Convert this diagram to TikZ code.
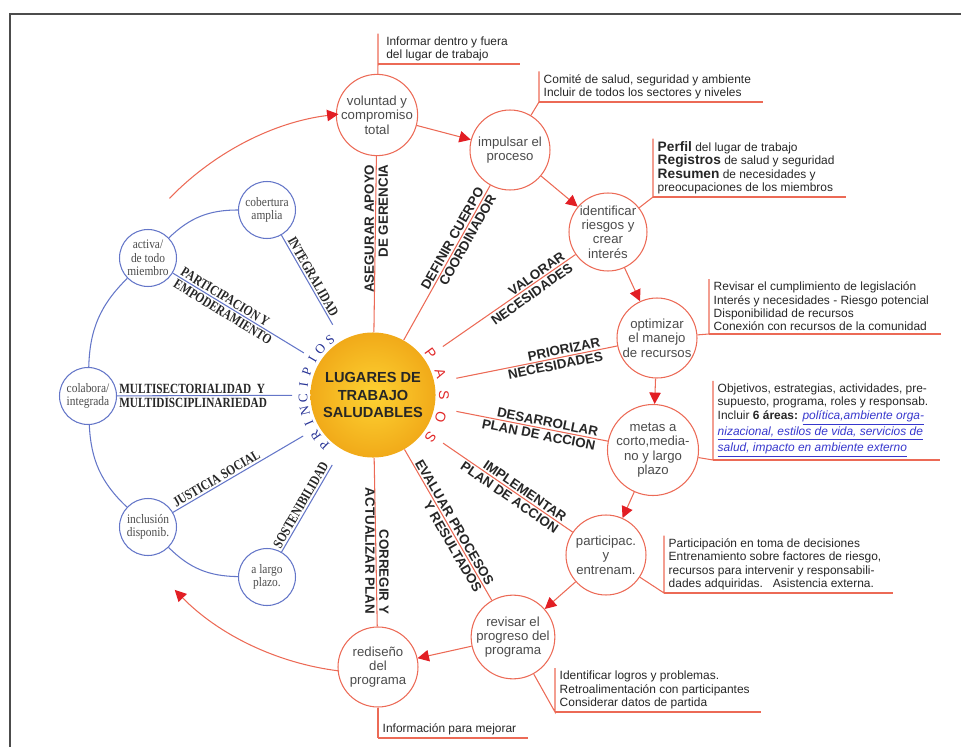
\documentclass[tikz,border=0pt]{standalone}
\usepackage{fontspec}
\setmainfont{Liberation Sans}
\newfontfamily\serifblue{Liberation Serif}
\newfontfamily\serifnarrow[FakeStretch=0.88]{Liberation Serif}
\newfontfamily\serifcond[FakeStretch=0.8]{Liberation Serif}
\usetikzlibrary{calc,arrows.meta}

\definecolor{salmon}{RGB}{236,106,86}
\definecolor{arrred}{RGB}{226,30,36}
\definecolor{pasred}{RGB}{225,40,40}
\definecolor{bluel}{RGB}{100,118,200}
\definecolor{princ}{RGB}{40,52,150}
\definecolor{linkblue}{RGB}{55,55,205}
\definecolor{gold1}{RGB}{253,210,50}
\definecolor{gold2}{RGB}{241,170,25}

\newcommand{\keyw}[1]{{\fontsize{7.8}{7.6}\selectfont\bfseries #1}}
\newcommand{\lk}[1]{\textcolor{linkblue}{\underline{\itshape #1}}}

\tikzset{
  stepnode/.style={circle, draw=salmon, line width=0.6pt, fill=white, minimum size=1.6cm, inner sep=0pt, align=center, font=\fontsize{7.5}{8.2}\selectfont, text=black!70},
  princnode/.style={circle, draw=bluel, line width=0.6pt, fill=white, minimum size=1.14cm, inner sep=0pt, align=center, font=\serifnarrow\fontsize{7.4}{7.6}\selectfont, text=black!70},
  rline/.style={draw=salmon, line width=0.6pt},
  bline/.style={draw=bluel, line width=0.6pt},
  flow/.style={rline, -{Triangle[length=6.5pt,width=6.5pt,color=arrred]}},
  redlab/.style={font=\bfseries\fontsize{7.6}{7.6}\selectfont, inner sep=1pt, text=black!85},
  bluelab/.style={font=\serifcond\bfseries\fontsize{8}{8}\selectfont, inner sep=1pt, text=black!85},
  notetext/.style={anchor=south west, align=left, inner xsep=2.5pt, inner ysep=1.5pt, font=\fontsize{6.8}{7.6}\selectfont, text=black!85},
}

\begin{document}
\begin{tikzpicture}[x=0.02cm, y=-0.02cm]
  \useasboundingbox (0,0) rectangle (961,747);
  % frame
  \draw[black!70, line width=0.8pt] (10,747) -- (10,14) -- (961,14);

  % centre
  \node[circle, minimum size=2.48cm, shading=radial, inner color=gold1, outer color=gold2, align=center, font=\bfseries\fontsize{8.3}{9.9}\selectfont, text=black!85] (ctr) at (373,395) {LUGARES DE\\TRABAJO\\SALUDABLES};

  % pasos
  \node[stepnode] (s1) at (377,115) {voluntad y\\compromiso\\total};
  \node[stepnode] (s2) at (510,150) {impulsar el\\proceso};
  \node[stepnode, minimum size=1.56cm] (s3) at (608,232) {identificar\\riesgos y\\crear\\interés};
  \node[stepnode] (s4) at (657,338) {optimizar\\el manejo\\de recursos};
  \node[stepnode, minimum size=1.64cm] (s5) at (653,450) {metas a\\corto,media-\\no y largo\\plazo};
  \node[stepnode] (s6) at (606,555) {participac.\\y\\entrenam.};
  \node[stepnode] (s7) at (513,637) {revisar el\\progreso del\\programa};
  \node[stepnode] (s8) at (378,667) {rediseño\\del\\programa};

  % principios
  \node[princnode] (cob) at (267,210) {cobertura\\amplia};
  \node[princnode] (act) at (148,258) {activa/\\de todo\\miembro};
  \node[princnode] (col) at (88,396) {colabora/\\integrada};
  \node[princnode] (inc) at (148,527) {inclusión\\disponib.};
  \node[princnode] (lar) at (267,577) {a largo\\plazo.};

  % ring of principles
  \draw[bline] (cob) to[bend right=22] (act);
  \draw[bline] (act) to[bend right=22] (col);
  \draw[bline] (col) to[bend right=22] (inc);
  \draw[bline] (inc) to[bend right=22] (lar);

  % sequence of steps
  \foreach \a/\b in {s1/s2, s2/s3, s3/s4, s4/s5, s5/s6, s6/s7, s7/s8}
    \draw[flow] (\a) -- (\b);

  % big return arcs
  \coordinate (arcA) at ($(ctr)+(-136:283)$);
  \draw[flow] (arcA) arc[start angle=-136, end angle=-97, radius=283];
  \coordinate (arcB) at ($(ctr)+(97:278)$);
  \draw[flow] (arcB) arc[start angle=97, end angle=135.5, radius=278];

  % red spokes
  \coordinate (v3) at ($(ctr)!1.7cm!(s3)$);
  \coordinate (v4) at ($(ctr)!1.7cm!(s4)$);
  \coordinate (v5) at ($(ctr)!1.7cm!(s5)$);
  \coordinate (v6) at ($(ctr)!1.7cm!(s6)$);
  \draw[rline] (ctr) -- (s1)
    node[redlab, pos=.965, rotate=90, anchor=south east] {ASEGURAR APOYO}
    node[redlab, pos=.965, rotate=90, anchor=north east] {DE GERENCIA};
  \draw[rline] (ctr) -- (s2)
    node[redlab, pos=.97, rotate=60.7, anchor=south east] {DEFINIR CUERPO}
    node[redlab, pos=.97, rotate=60.7, anchor=north east] {COORDINADOR};
  \draw[rline] (v3) -- (s3)
    node[redlab, pos=.95, rotate=35.5, anchor=south east] {VALORAR}
    node[redlab, pos=.95, rotate=35.5, anchor=north east] {NECESIDADES};
  \draw[rline] (v4) -- (s4)
    node[redlab, pos=.915, rotate=11.3, anchor=south east] {PRIORIZAR}
    node[redlab, pos=.915, rotate=11.3, anchor=north east] {NECESIDADES};
  \draw[rline] (v5) -- (s5)
    node[redlab, pos=.94, rotate=-11.1, anchor=south east] {DESARROLLAR}
    node[redlab, pos=.94, rotate=-11.1, anchor=north east] {PLAN DE ACCION};
  \draw[rline] (v6) -- (s6)
    node[redlab, pos=.925, rotate=-34.4, anchor=south east] {IMPLEMENTAR}
    node[redlab, pos=.925, rotate=-34.4, anchor=north east] {PLAN DE ACCION};
  \draw[rline] (ctr) -- (s7)
    node[redlab, pos=.93, rotate=-59.8, anchor=south east] {EVALUAR PROCESOS}
    node[redlab, pos=.93, rotate=-59.8, anchor=north east] {Y RESULTADOS};
  \draw[rline] (ctr) -- (s8)
    node[redlab, pos=.94, rotate=-90, anchor=south east] {CORREGIR Y}
    node[redlab, pos=.94, rotate=-90, anchor=north east] {ACTUALIZAR PLAN};

  % blue spokes
  \coordinate (q1) at ($(ctr)!1.62cm!(cob)$);
  \coordinate (q2) at ($(ctr)!1.62cm!(act)$);
  \coordinate (q3) at ($(ctr)!1.62cm!(col)$);
  \coordinate (q4) at ($(ctr)!1.62cm!(inc)$);
  \coordinate (q5) at ($(ctr)!1.62cm!(lar)$);
  \draw[bline] (cob) -- (q1)
    node[bluelab, midway, rotate=-60.4, anchor=south] {INTEGRALIDAD};
  \draw[bline] (act) -- (q2)
    node[bluelab, pos=.03, rotate=-31.5, anchor=south west] {PARTICIPACION Y}
    node[bluelab, pos=.03, rotate=-31.5, anchor=north west] {EMPODERAMIENTO};
  \draw[bline] (col) -- (q3)
    node[bluelab, pos=0, anchor=south west] {MULTISECTORIALIDAD\ \ Y}
    node[bluelab, pos=0, anchor=north west] {MULTIDISCIPLINARIEDAD};
  \draw[bline] (inc) -- (q4)
    node[bluelab, pos=.02, rotate=30.5, anchor=south west] {JUSTICIA SOCIAL};
  \draw[bline] (lar) -- (q5)
    node[bluelab, midway, rotate=60, anchor=south] {SOSTENIBILIDAD};

  % lettering round the centre
  \foreach \l [count=\i from 0] in {P,R,I,N,C,I,P,I,O,S}
    \node[text=princ, font=\serifblue\fontsize{7.5}{7.5}\selectfont, inner sep=0pt, rotate={226-\i*10.9-90}] (pr\i) at ($(ctr)+({-(226-\i*10.9)}:70)$) {\l};
  \foreach \l [count=\i from 0] in {P,A,S,O,S}
    \node[text=pasred, font=\fontsize{8}{8}\selectfont, inner sep=0pt, rotate={36-\i*18-90}] (pa\i) at ($(ctr)+({-(36-\i*18)}:71)$) {\l};

  % notes
  \coordinate (c1) at (378,64);
  \coordinate (c2) at (539,102);
  \coordinate (c3) at (653,197);
  \coordinate (c4) at (709,334);
  \coordinate (c5) at (713,460);
  \coordinate (c6) at (664,593);
  \coordinate (c7) at (555,712);
  \coordinate (c8) at (378,738);
  \node[notetext, xshift=2pt] (n1) at (c1) {Informar dentro y fuera\\del lugar de trabajo};
  \node[notetext] (n2) at (c2) {Comité de salud, seguridad y ambiente\\Incluir de todos los sectores y niveles};
  \node[notetext] (n3) at (c3) {\keyw{Perfil} del lugar de trabajo\\\keyw{Registros} de salud y seguridad\\\keyw{Resumen} de necesidades y\\preocupaciones de los miembros};
  \node[notetext] (n4) at (c4) {Revisar el cumplimiento de legislación\\Interés y necesidades - Riesgo potencial\\Disponibilidad de recursos\\Conexión con recursos de la comunidad};
  \node[notetext] (n5) at (c5) {Objetivos, estrategias, actividades, pre-\\supuesto, programa, roles y responsab.\\Incluir \textbf{6 áreas:} \lk{política,ambiente orga-}\\\lk{nizacional, estilos de vida, servicios de}\\\lk{salud, impacto en ambiente externo}};
  \node[notetext] (n6) at (c6) {Participación en toma de decisiones\\Entrenamiento sobre factores de riesgo,\\recursos para intervenir y responsabili-\\dades adquiridas.\ \ \ Asistencia externa.};
  \node[notetext] (n7) at (c7) {Identificar logros y problemas.\\Retroalimentación con participantes\\Considerar datos de partida};
  \node[notetext] (n8) at (c8) {Información para mejorar};
  \foreach \k/\s in {1/s1, 2/s2, 3/s3, 4/s4, 5/s5, 6/s6, 7/s7}
    \draw[rline] (\s) -- (c\k) -- (c\k |- n\k.north);
  \draw[rline] (s8) -- (c8);
  \foreach \k in {1,...,8}
    \draw[rline] (c\k) -- ($(c\k -| n\k.east)+(7,0)$);
\end{tikzpicture}
\end{document}
